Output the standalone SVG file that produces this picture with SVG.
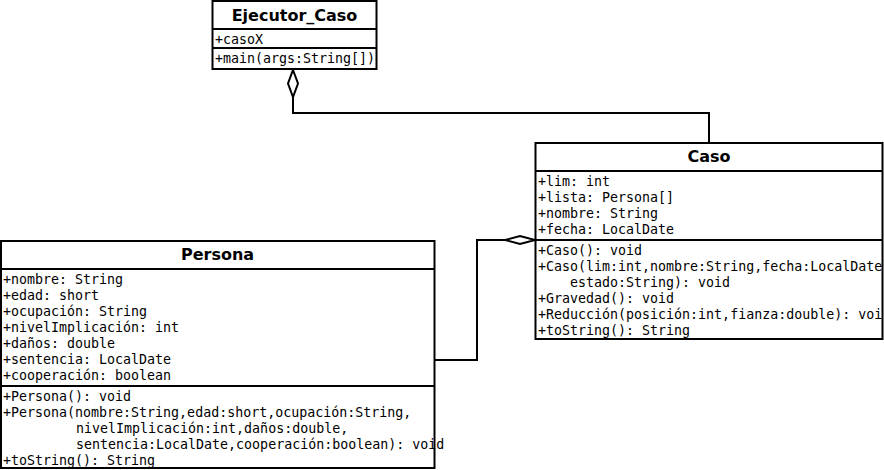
<svg xmlns="http://www.w3.org/2000/svg" width="884" height="470" viewBox="0 0 884 470">
<style>
.box{fill:#fff;stroke:#000;stroke-width:2}
.sep{stroke:#000;stroke-width:2}
.title{font-family:"DejaVu Sans",sans-serif;font-weight:bold;font-size:16px;text-anchor:middle;fill:#000}
.m{font-family:"DejaVu Sans Mono",monospace;font-size:13.3px;fill:#000;white-space:pre}
.conn{fill:none;stroke:#000;stroke-width:2}
.dia{fill:#fff;stroke:#000;stroke-width:2}
</style>
<rect width="884" height="470" fill="#fff"/>
<g id="connectors">
<polyline class="conn" points="293,97 293,113 709,113 709,143"/>
<polygon class="dia" points="293,70 298,83.5 293,97 288,83.5"/>
<polyline class="conn" points="435,360 477,360 477,240 505,240"/>
<polygon class="dia" points="535,240 520,244 505,240 520,236"/>
</g>
<g id="Ejecutor_Caso">
<rect class="box" x="212.5" y="1" width="164" height="68"/>
<line class="sep" x1="212.5" y1="29" x2="376.5" y2="29"/>
<line class="sep" x1="212.5" y1="48" x2="376.5" y2="48"/>
<text class="title" x="294.5" y="21">Ejecutor_Caso</text>
<text class="m" x="215" y="44">+casoX</text>
<text class="m" x="215" y="63">+main(args:String[])</text>
</g>
<g id="Caso">
<rect class="box" x="535.5" y="143" width="347" height="196"/>
<line class="sep" x1="535.5" y1="171" x2="882.5" y2="171"/>
<line class="sep" x1="535.5" y1="240" x2="882.5" y2="240"/>
<text class="title" x="709" y="162">Caso</text>
<text class="m" x="538" y="186">+lim: int</text>
<text class="m" x="538" y="202">+lista: Persona[]</text>
<text class="m" x="538" y="218">+nombre: String</text>
<text class="m" x="538" y="234">+fecha: LocalDate</text>
<text class="m" x="538" y="255">+Caso(): void</text>
<text class="m" x="538" y="271">+Caso(lim:int,nombre:String,fecha:LocalDate</text>
<text class="m" x="570" y="287">estado:String): void</text>
<text class="m" x="538" y="303">+Gravedad(): void</text>
<text class="m" x="538" y="319">+Reducción(posición:int,fianza:double): voi</text>
<text class="m" x="538" y="335">+toString(): String</text>
</g>
<g id="Persona">
<rect class="box" x="1" y="241" width="433.5" height="227"/>
<line class="sep" x1="1" y1="269" x2="434.5" y2="269"/>
<line class="sep" x1="1" y1="386" x2="434.5" y2="386"/>
<text class="title" x="217.5" y="260">Persona</text>
<text class="m" x="3" y="284">+nombre: String</text>
<text class="m" x="3" y="300">+edad: short</text>
<text class="m" x="3" y="316">+ocupación: String</text>
<text class="m" x="3" y="332">+nivelImplicación: int</text>
<text class="m" x="3" y="348">+daños: double</text>
<text class="m" x="3" y="364">+sentencia: LocalDate</text>
<text class="m" x="3" y="380">+cooperación: boolean</text>
<text class="m" x="3" y="401">+Persona(): void</text>
<text class="m" x="3" y="417">+Persona(nombre:String,edad:short,ocupación:String,</text>
<text class="m" x="76" y="433">nivelImplicación:int,daños:double,</text>
<text class="m" x="76" y="449">sentencia:LocalDate,cooperación:boolean): void</text>
<text class="m" x="3" y="465">+toString(): String</text>
</g>
</svg>
